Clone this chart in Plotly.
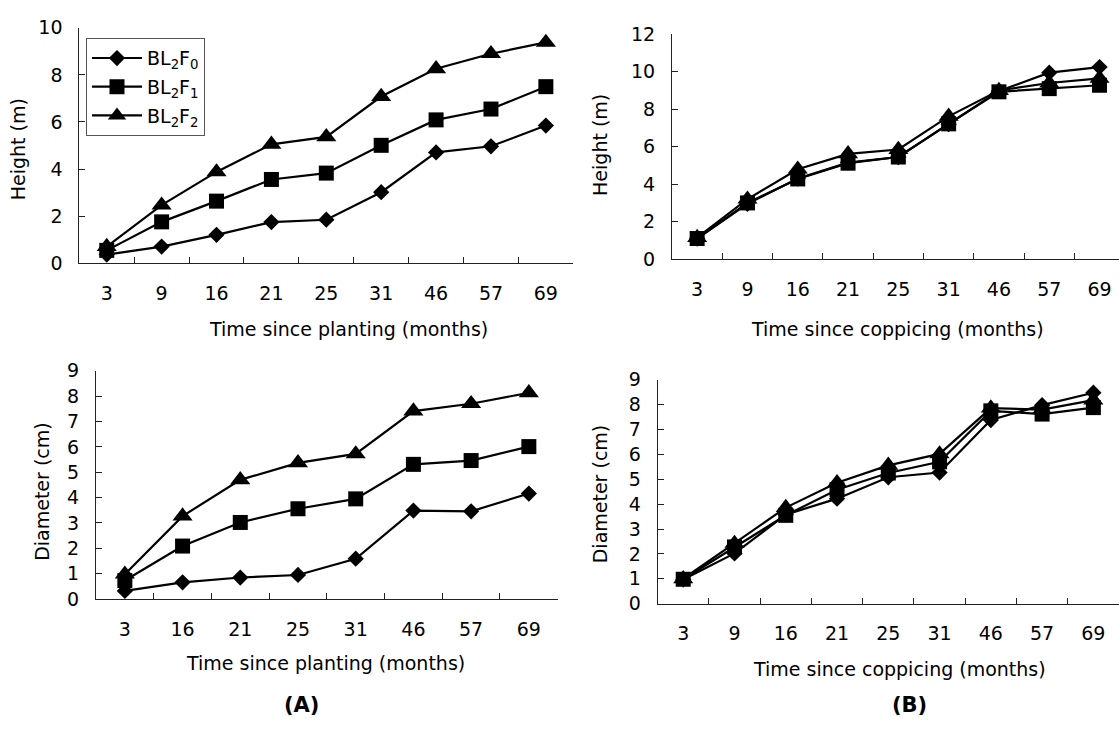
import plotly.graph_objects as go

# Sampling times (months)
months_planting_h = ["3", "9", "16", "21", "25", "31", "46", "57", "69"]
months_planting_d = ["3", "16", "21", "25", "31", "46", "57", "69"]
months_coppicing = ["3", "9", "16", "21", "25", "31", "46", "57", "69"]

series_names = ["BL<sub>2</sub>F<sub>0</sub>", "BL<sub>2</sub>F<sub>1</sub>", "BL<sub>2</sub>F<sub>2</sub>"]

# (A) planted stands: height (m)
height_planting_f0 = [0.37, 0.71, 1.21, 1.75, 1.85, 3.02, 4.71, 4.97, 5.85]
height_planting_f1 = [0.55, 1.76, 2.64, 3.56, 3.83, 5.01, 6.09, 6.55, 7.50]
height_planting_f2 = [0.71, 2.47, 3.88, 5.05, 5.37, 7.08, 8.26, 8.90, 9.38]

# (A) planted stands: diameter (cm)
diam_planting_f0 = [0.32, 0.66, 0.85, 0.95, 1.59, 3.49, 3.46, 4.16]
diam_planting_f1 = [0.73, 2.09, 3.02, 3.56, 3.95, 5.31, 5.46, 6.01]
diam_planting_f2 = [0.98, 3.27, 4.70, 5.37, 5.72, 7.41, 7.70, 8.13]

# (B) coppiced stands: height (m)
height_coppicing_f0 = [1.10, 2.95, 4.30, 5.15, 5.45, 7.20, 8.97, 9.95, 10.25]
height_coppicing_f1 = [1.10, 3.00, 4.28, 5.12, 5.45, 7.22, 8.93, 9.10, 9.28]
height_coppicing_f2 = [1.15, 3.20, 4.80, 5.62, 5.85, 7.62, 9.00, 9.40, 9.65]

# (B) coppiced stands: diameter (cm)
diam_coppicing_f0 = [0.97, 2.02, 3.58, 4.22, 5.08, 5.27, 7.38, 7.98, 8.48]
diam_coppicing_f1 = [0.98, 2.28, 3.55, 4.58, 5.25, 5.70, 7.75, 7.62, 7.88]
diam_coppicing_f2 = [1.00, 2.42, 3.86, 4.86, 5.56, 6.02, 7.86, 7.80, 8.18]

W, H = 1119, 744
FONT = "DejaVu Sans"
FS = 19
symbols = ["diamond", "square", "triangle-up"]
sizes = [12.5, 15, 17.5]


def px_x(v):
    return v / W


def px_y(v):
    return 1 - v / H


fig = go.Figure()

panels = [
    ("x", "y", months_planting_h, [height_planting_f0, height_planting_f1, height_planting_f2], True),
    ("x2", "y2", months_coppicing, [height_coppicing_f0, height_coppicing_f1, height_coppicing_f2], False),
    ("x3", "y3", months_planting_d, [diam_planting_f0, diam_planting_f1, diam_planting_f2], False),
    ("x4", "y4", months_coppicing, [diam_coppicing_f0, diam_coppicing_f1, diam_coppicing_f2], False),
]

for xa, ya, cats, series, show in panels:
    for i, vals in enumerate(series):
        fig.add_trace(go.Scatter(
            x=cats, y=vals, xaxis=xa, yaxis=ya,
            mode="lines+markers",
            name=series_names[i],
            legendgroup=f"g{i}",
            showlegend=show,
            line=dict(color="black", width=2.2),
            marker=dict(symbol=symbols[i], size=sizes[i], color="black"),
            cliponaxis=False,
        ))

axis_common = dict(
    showline=True, linecolor="#222", linewidth=1,
    ticks="inside", ticklen=6, tickcolor="#222", tickwidth=1,
    showgrid=False, zeroline=False,
    tickfont=dict(family=FONT, size=FS, color="black"),
)


def xaxis(left, right, cats, rng, anchor):
    return dict(axis_common, type="category", categoryorder="array", categoryarray=cats,
                tickson="boundaries", range=rng, domain=[px_x(left), min(1, px_x(right))],
                anchor=anchor, ticklabelstandoff=13)


def yaxis(top, bottom, rng, dtick, anchor):
    return dict(axis_common, range=rng, dtick=dtick, domain=[px_y(bottom), px_y(top)],
                anchor=anchor, ticklabelstandoff=12)


fig.update_layout(
    width=W, height=H,
    margin=dict(l=0, r=0, t=0, b=0),
    paper_bgcolor="white", plot_bgcolor="white",
    font=dict(family=FONT, size=FS, color="black"),
    xaxis=xaxis(79.3, 573.3, months_planting_h, [-0.5, 8.5], "y"),
    yaxis=yaxis(17.3, 260, [0, 10], 2, "x"),
    xaxis2=xaxis(672, 1119, months_coppicing, [-0.5, 8.387], "y2"),
    yaxis2=yaxis(24, 255.7, [0, 12], 2, "x2"),
    xaxis3=xaxis(96, 557.7, months_planting_d, [-0.5, 7.5], "y3"),
    yaxis3=yaxis(370.7, 606, [0, 9], 1, "x3"),
    xaxis4=xaxis(657.6, 1119, months_coppicing, [-0.5, 8.5], "y4"),
    yaxis4=yaxis(380, 610.7, [0, 9], 1, "x4"),
    showlegend=True,
    legend=dict(
        x=px_x(86), y=px_y(28), xanchor="left", yanchor="top",
        bordercolor="#555", borderwidth=1, bgcolor="white",
        font=dict(family=FONT, size=FS, color="black"),
        tracegroupgap=1, itemwidth=50,
    ),
)

annotations = [
    # x-axis titles
    dict(text="Time since planting (months)", x=px_x(348), y=px_y(328)),
    dict(text="Time since coppicing (months)", x=px_x(897), y=px_y(328)),
    dict(text="Time since planting (months)", x=px_x(325), y=px_y(672)),
    dict(text="Time since coppicing (months)", x=px_x(899), y=px_y(678)),
    # y-axis titles
    dict(text="Height (m)", x=px_x(17.5), y=px_y(143), textangle=-90),
    dict(text="Height (m)", x=px_x(600), y=px_y(138), textangle=-90),
    dict(text="Diameter (cm)", x=px_x(42.5), y=px_y(495), textangle=-90),
    dict(text="Diameter (cm)", x=px_x(600), y=px_y(498), textangle=-90),
    # panel labels
    dict(text="<b>(A)</b>", x=px_x(301), y=px_y(715), font=dict(family=FONT, size=21, color="black")),
    dict(text="<b>(B)</b>", x=px_x(909), y=px_y(715), font=dict(family=FONT, size=21, color="black")),
]
for a in annotations:
    a.setdefault("font", dict(family=FONT, size=FS, color="black"))
    fig.add_annotation(xref="paper", yref="paper", xanchor="center", yanchor="middle",
                       showarrow=False, **a)

fig.write_html("out.html")
